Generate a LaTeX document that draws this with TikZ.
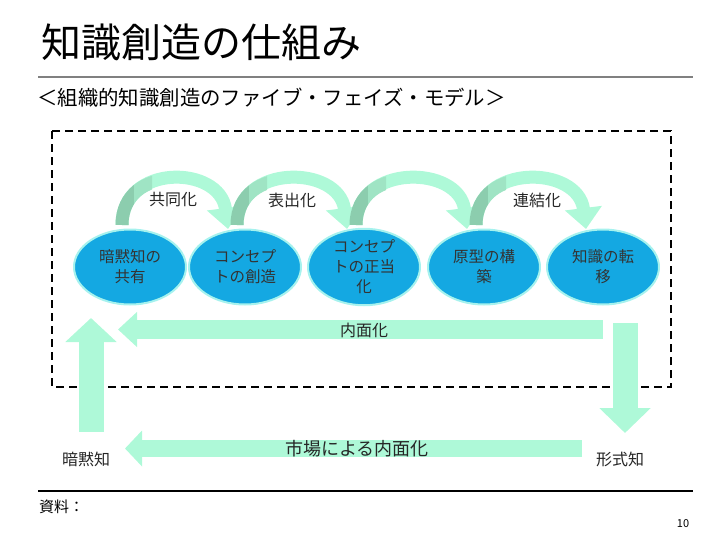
\documentclass[tikz,border=0pt]{standalone}
\usepackage{fontspec}
\setmainfont{Noto Sans CJK JP}
\usepackage{xcolor}
\usepackage{tikz}
\usetikzlibrary{arrows.meta,calc,shapes.geometric}
\definecolor{mint}{HTML}{AEF9D8}
\definecolor{mintdark}{HTML}{8CCDAE}
\definecolor{mintmid}{HTML}{9FE4C4}
\definecolor{phaseblue}{HTML}{14A8E2}
\definecolor{glow}{HTML}{A6F2EE}
\tikzstyle{phase}=[ellipse, draw=glow, line width=2pt, fill=phaseblue, minimum width=112pt, minimum height=75pt, inner sep=0pt, align=center, text=black!80, font=\fontsize{15.5}{20}\selectfont]
\tikzstyle{bendarrow}=[line width=13pt, draw=mint, -{Triangle[width=36pt,length=21pt]}]
\tikzstyle{block}=[draw=mint, line width=19pt, -{Triangle[width=34pt,length=19pt]}]
\tikzstyle{lbl}=[inner sep=0pt, text=black!85, font=\fontsize{16}{18}\selectfont]

\begin{document}
\begin{tikzpicture}[x=1pt,y=-1pt]
\useasboundingbox (0,0) rectangle (728,546);
\node[anchor=west, inner sep=0pt, font=\fontsize{40}{42}\selectfont] (title) at (41,42) {知識創造の仕組み};
\draw[gray, line width=2pt] (38,77) -- (693,77);
\node[anchor=west, inner sep=0pt, font=\fontsize{20.4}{24}\selectfont] (sub) at (37,98) {＜組織的知識創造のファイブ・フェイズ・モデル＞};
\draw[dashed, dash pattern=on 8pt off 5pt, line width=2pt] (52,131) rectangle (671,387);
\coordinate (p1) at (130,267); \coordinate (p2) at (245,267); \coordinate (p3) at (364,267);
\coordinate (p4) at (484,267); \coordinate (p5) at (603,267);
\foreach \a/\b in {p1/p2,p2/p3,p3/p4,p4/p5}{
	\draw[bendarrow] ($(\a)+(-8,-42)$) .. controls +(0,-62) and +(-8,-64) .. ($(\b)+(-17,-38)$);
	\begin{scope}
		\clip ($(\a)+(-30,-120)$) rectangle ($(\a)+(4,-30)$);
		\draw[mintdark, line width=13pt] ($(\a)+(-8,-42)$) .. controls +(0,-62) and +(-8,-64) .. ($(\b)+(-17,-38)$);
	\end{scope}
	\begin{scope}
		\clip ($(\a)+(4,-120)$) rectangle ($(\a)+(22,-30)$);
		\draw[mintmid, line width=13pt] ($(\a)+(-8,-42)$) .. controls +(0,-62) and +(-8,-64) .. ($(\b)+(-17,-38)$);
	\end{scope}
}
\node[phase] (share) at (p1) {暗黙知の\\共有};
\node[phase] (create) at (p2) {コンセプ\\トの創造};
\node[phase] (justify) at (p3) {コンセプ\\トの正当\\化};
\node[phase] (proto) at (p4) {原型の構\\築};
\node[phase] (transfer) at (p5) {知識の転\\移};
\node[lbl] (social) at (173,200) {共同化};
\node[lbl] (extern) at (292,200) {表出化};
\node[lbl] (combine) at (537,200) {連結化};
\coordinate (inS) at (603,329.5); \coordinate (inE) at (118,329.5);
\coordinate (upS) at (91,432); \coordinate (upE) at (91,318);
\coordinate (dnS) at (625,323); \coordinate (dnE) at (625,433);
\coordinate (mkS) at (582,448.5); \coordinate (mkE) at (125,448.5);
\draw[block] (inS) -- (inE);
\draw[block, line width=25pt, -{Triangle[width=50pt,length=24pt]}] (upS) -- (upE);
\draw[block, line width=25pt, -{Triangle[width=50pt,length=25pt]}] (dnS) -- (dnE);
\draw[block, line width=17pt, -{Triangle[width=35pt,length=17pt]}] (mkS) -- (mkE);
\node[lbl] (internal) at (364,330) {内面化};
\node[lbl, font=\fontsize{18}{20}\selectfont] (market) at (357,449) {市場による内面化};
\node[lbl] (tacit) at (86,459) {暗黙知};
\node[lbl] (explicit) at (620,459) {形式知};
\draw[black, line width=1.5pt] (38,491) -- (693,491);
\node[anchor=west, inner sep=0pt, font=\fontsize{15}{16}\selectfont] (src) at (39,507) {資料：};
\node[inner sep=0pt, font=\fontsize{11}{12}\selectfont] (pg) at (683,524) {10};
\end{tikzpicture}
\end{document}
